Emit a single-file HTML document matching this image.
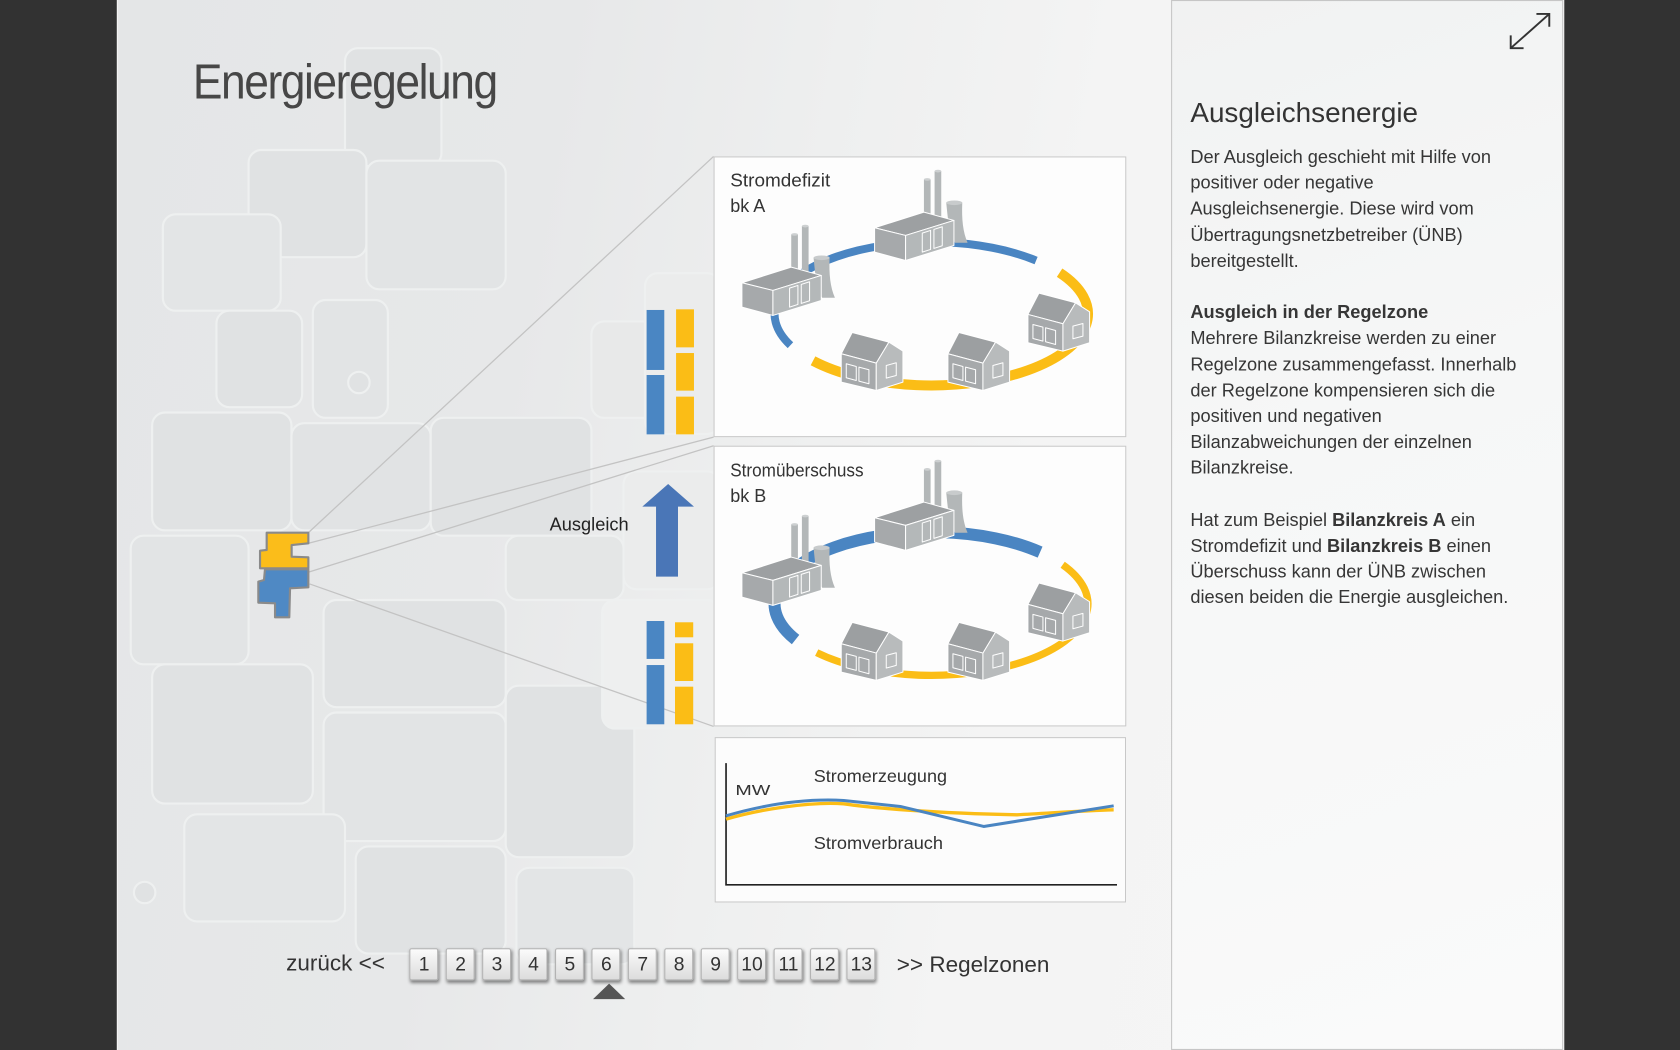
<!DOCTYPE html>
<html><head><meta charset="utf-8">
<style>
html,body{margin:0;padding:0;}
body{width:1680px;height:1050px;overflow:hidden;background:#323232;position:relative;font-family:"Liberation Sans",sans-serif;}
#s{position:absolute;left:0;top:0;width:1568px;height:980px;transform:scale(1.0714286);transform-origin:0 0;}
.abs{position:absolute;}
#main{left:109px;top:0;width:1351px;height:980px;background:linear-gradient(100deg,#e4e6e7 0%,#e7e8e9 28%,#eeefef 45%,#f4f4f4 62%,#f6f6f6 100%);border-left:2px solid #f3f3f3;box-sizing:border-box;overflow:hidden;}
#rp{left:1093px;top:0;width:366px;height:980px;background:linear-gradient(160deg,#f1f2f2 0%,#f6f7f7 40%,#fafafa 100%);border:1px solid #c6c6c6;box-sizing:border-box;}
.txt{color:#363636;font-size:17px;line-height:24.2px;white-space:nowrap;}
.btn{position:absolute;top:885px;width:27px;height:30px;box-sizing:border-box;border:1px solid #b3b3b3;border-radius:2px;background:linear-gradient(#fbfbfb,#dcdcdc);box-shadow:1px 2px 3px rgba(0,0,0,.45);font-size:18px;line-height:28px;text-align:center;color:#333;}
</style></head>
<body>
<div id="s">
<div id="main" class="abs">
<svg class="abs" style="left:-109px;top:0" width="1568" height="980">
 <g fill="#e0e2e3" stroke="#eef0f0" stroke-width="2">
  <rect x="320" y="45" width="90" height="110" rx="12"/>
  <rect x="230" y="140" width="110" height="100" rx="12"/>
  <rect x="150" y="200" width="110" height="90" rx="12" fill="#e3e5e6"/>
  <rect x="200" y="290" width="80" height="90" rx="12"/>
  <rect x="290" y="280" width="70" height="110" rx="12" fill="#e2e4e5"/>
  <rect x="340" y="150" width="130" height="120" rx="12" fill="#e2e4e5"/>
  <rect x="140" y="385" width="130" height="110" rx="12"/>
  <rect x="270" y="395" width="130" height="100" rx="12" fill="#e1e3e4"/>
  <rect x="400" y="390" width="150" height="110" rx="12"/>
  <rect x="120" y="500" width="110" height="120" rx="12" fill="#e2e4e5"/>
  <rect x="300" y="560" width="170" height="100" rx="12"/>
  <rect x="140" y="620" width="150" height="130" rx="12"/>
  <rect x="300" y="665" width="170" height="120" rx="12" fill="#e2e4e5"/>
  <rect x="470" y="640" width="120" height="160" rx="12"/>
  <rect x="170" y="760" width="150" height="100" rx="12" fill="#e3e5e6"/>
  <rect x="330" y="790" width="140" height="100" rx="12"/>
  <rect x="480" y="810" width="110" height="90" rx="12" fill="#e3e5e6"/>
  <rect x="470" y="500" width="110" height="60" rx="12" fill="#e4e6e6"/>
  <rect x="550" y="300" width="60" height="90" rx="12" fill="#e8e9e9"/>
  <rect x="600" y="255" width="70" height="150" rx="12" fill="#ebecec"/>
  <rect x="580" y="440" width="90" height="110" rx="12" fill="#ebecec"/>
  <rect x="560" y="560" width="110" height="120" rx="12" fill="#eeefef"/>
  <circle cx="133" cy="833" r="10"/>
  <circle cx="333" cy="357" r="10"/>
 </g>
</svg>
</div>

<!-- title -->
<div class="abs" style="left:180px;top:53px;font-size:46px;line-height:46px;color:#474747;white-space:nowrap;letter-spacing:-1.5px;transform:scaleX(0.9);transform-origin:0 0;">Energieregelung</div>

<!-- connectors + map -->
<svg class="abs" style="left:0;top:0" width="1568" height="980">
 <g stroke="#c3c3c3" stroke-width="1.2" fill="none">
  <line x1="288" y1="497" x2="666" y2="146"/>
  <line x1="288" y1="507" x2="666" y2="408"/>
  <line x1="288" y1="534" x2="666" y2="416"/>
  <line x1="289" y1="545" x2="666" y2="678"/>
 </g>
 <g stroke="#8a8a8a" stroke-width="2" stroke-linejoin="round">
  <polygon fill="#fbbd1a" points="248.9,497.2 287.8,497.2 287.8,507.1 272.2,508.7 272.2,519.6 287.8,520.2 287.8,530.4 242.7,530.4 242.7,514 248.9,513.3"/>
  <polygon fill="#4f89c4" points="247.3,531.4 287.8,531.4 287.8,548.2 270.7,549.1 270,576.2 256.7,576.2 256.7,563.1 241.1,562.5 241.1,542.9 246.4,541.3"/>
 </g>
 <!-- bars -->
 <g fill="#4a86c3">
  <rect x="603.5" y="289.3" width="16.5" height="56"/>
  <rect x="603.5" y="350" width="16.5" height="55.4"/>
  <rect x="603.5" y="579.6" width="16.5" height="35.4"/>
  <rect x="603.5" y="620.7" width="16.5" height="55.3"/>
 </g>
 <g fill="#fbbd16">
  <rect x="631" y="288.7" width="16.7" height="35.5"/>
  <rect x="631" y="329.5" width="16.7" height="35.1"/>
  <rect x="631" y="370.2" width="16.7" height="35.2"/>
  <rect x="630" y="580.8" width="17" height="14"/>
  <rect x="630" y="600.4" width="17" height="35.2"/>
  <rect x="630" y="640.9" width="17" height="35.1"/>
 </g>
 <polygon fill="#4a76b7" points="623.6,451.7 647.7,472.9 632.8,472.9 632.8,538.2 612.3,538.2 612.3,472.9 599.5,472.9"/>
</svg>
<div class="abs" style="left:513px;top:478px;font-size:17px;line-height:24px;color:#222;">Ausgleich</div>

<!-- panel A -->
<svg class="abs" style="left:666.4px;top:145.6px;overflow:visible" width="385.2" height="262" viewBox="222 18 1238 842">
 <defs>
  <g id="fac" stroke="#fff" stroke-width="3" stroke-linejoin="round">
   <rect x="455" y="252" width="20" height="115" fill="#b3b7b8" stroke="none"/>
   <ellipse cx="465" cy="252" rx="10" ry="4" fill="#cdd0d1" stroke="none"/>
   <rect x="487" y="227" width="20" height="140" fill="#b3b7b8" stroke="none"/>
   <ellipse cx="497" cy="227" rx="10" ry="4" fill="#cdd0d1" stroke="none"/>
   <path d="M522,322 C527,372 530,410 548,442 L586,442 C572,410 568,372 570,322 Z" fill="#b3b7b8" stroke="none"/>
   <ellipse cx="546" cy="322" rx="24" ry="7" fill="#c8cbcc" stroke="none"/>
   <polygon points="307,397 455,350 545,375 400,420" fill="#9da0a2"/>
   <polygon points="307,397 400,420 400,495 307,470" fill="#a6a9ab"/>
   <polygon points="400,420 545,375 545,450 400,495" fill="#b4b8b9"/>
   <polygon points="450,413 475,405 475,462 450,470" fill="none"/>
   <polygon points="485,402 510,394 510,451 485,459" fill="none"/>
  </g>
  <g id="hs" stroke="#fff" stroke-width="3" stroke-linejoin="round">
   <polygon points="638,546 748,575 710,638 605,610" fill="#9c9fa1"/>
   <polygon points="605,610 710,638 710,720 605,695" fill="#a6a9ab"/>
   <polygon points="710,638 748,575 790,602 790,695 710,720" fill="#b8bbbc"/>
   <polygon points="620,640 650,648 650,690 620,682" fill="none"/>
   <polygon points="658,650 688,658 688,700 658,692" fill="none"/>
   <polygon points="740,645 770,637 770,675 740,683" fill="none"/>
  </g>
  <g id="bld">
   <use href="#fac"/>
   <use href="#fac" transform="translate(398,-165)"/>
   <use href="#hs"/>
   <use href="#hs" transform="translate(320,0)"/>
   <use href="#hs" transform="translate(560,-118)"/>
  </g>
 </defs>
 <rect x="223.5" y="19.5" width="1235" height="839" fill="#fdfdfd" stroke="#c8c8c8" stroke-width="3"/>
 <path d="M452.6,584.3 A470,215 0 0 1 1189.5,330.2" fill="none" stroke="#4a85c2" stroke-width="24"/>
 <path d="M1260,366.7 A470,215 0 0 1 520.3,631.1" fill="none" stroke="#fbbd16" stroke-width="30"/>
 <use href="#bld"/>
 <text x="272" y="108" font-family="Liberation Sans, sans-serif" font-size="54" fill="#333" textLength="300" lengthAdjust="spacingAndGlyphs">Stromdefizit</text>
 <text x="272" y="185" font-family="Liberation Sans, sans-serif" font-size="54" fill="#333">bk A</text>
</svg>

<!-- panel B -->
<svg class="abs" style="left:666.4px;top:415.6px;overflow:visible" width="385.2" height="262" viewBox="222 16 1238 842">
 <rect x="223.5" y="17.5" width="1235" height="839" fill="#fdfdfd" stroke="#c8c8c8" stroke-width="3"/>
 <path d="M468,597.5 A470,215 0 0 1 1201.5,335.3" fill="none" stroke="#4a85c2" stroke-width="36"/>
 <path d="M1269.2,372.9 A470,215 0 0 1 531.3,636.6" fill="none" stroke="#fbbd16" stroke-width="22"/>
 <use href="#bld"/>
 <text x="272" y="108" font-family="Liberation Sans, sans-serif" font-size="54" fill="#333" textLength="400" lengthAdjust="spacingAndGlyphs">Stromüberschuss</text>
 <text x="272" y="185" font-family="Liberation Sans, sans-serif" font-size="54" fill="#333">bk B</text>
</svg>

<!-- chart -->
<svg class="abs" style="left:666.7px;top:688.2px;overflow:visible" width="384" height="154.3" viewBox="43 22 1234 496">
 <rect x="44.5" y="23.5" width="1231" height="493" fill="#fcfcfc" stroke="#c8c8c8" stroke-width="3"/>
 <polyline points="77,100 77,465 1250,465" fill="none" stroke="#222" stroke-width="5"/>
 <text x="105" y="195" font-family="Liberation Sans, sans-serif" font-size="44" fill="#333" textLength="105" lengthAdjust="spacingAndGlyphs">MW</text>
 <text x="340" y="157" font-family="Liberation Sans, sans-serif" font-size="54" fill="#333" textLength="400" lengthAdjust="spacingAndGlyphs">Stromerzeugung</text>
 <text x="340" y="358" font-family="Liberation Sans, sans-serif" font-size="54" fill="#333" textLength="388" lengthAdjust="spacingAndGlyphs">Stromverbrauch</text>
 <path d="M77,268 C180,238 330,215 430,222 C520,235 700,250 950,255 C1050,250 1150,242 1240,240" fill="none" stroke="#fbbd16" stroke-width="10"/>
 <path d="M77,258 C180,228 300,205 430,212 L600,230 L850,290 L1240,228" fill="none" stroke="#4a85c2" stroke-width="9" stroke-linejoin="round"/>
</svg>

<!-- pagination -->
<div class="abs" style="left:267px;top:885px;font-size:21px;line-height:30px;color:#333;white-space:nowrap;">zurück &lt;&lt;</div>
<div class="btn" style="left:382.4px">1</div>
<div class="btn" style="left:416.4px">2</div>
<div class="btn" style="left:450.4px">3</div>
<div class="btn" style="left:484.4px">4</div>
<div class="btn" style="left:518.4px">5</div>
<div class="btn" style="left:552.4px">6</div>
<div class="btn" style="left:586.4px">7</div>
<div class="btn" style="left:620.4px">8</div>
<div class="btn" style="left:654.4px">9</div>
<div class="btn" style="left:688.4px">10</div>
<div class="btn" style="left:722.4px">11</div>
<div class="btn" style="left:756.4px">12</div>
<div class="btn" style="left:790.4px">13</div>
<svg class="abs" style="left:553px;top:917px" width="32" height="16"><polygon points="15.5,1 30.5,15.5 0.5,15.5" fill="#555"/></svg>
<div class="abs" style="left:837px;top:886px;font-size:21px;line-height:30px;color:#333;white-space:nowrap;">&gt;&gt; Regelzonen</div>

<!-- right panel -->
<div id="rp" class="abs"></div>
<svg class="abs" style="left:1408px;top:11px" width="40" height="36">
 <g stroke="#333" stroke-width="1.8" fill="none">
  <line x1="2" y1="34" x2="38" y2="2"/>
  <polyline points="26,2 38,2 38,14"/>
  <polyline points="2,22 2,34 14,34"/>
 </g>
</svg>
<div class="abs" style="left:1111px;top:90px;font-size:26px;line-height:30px;color:#333;white-space:nowrap;">Ausgleichsenergie</div>
<div class="abs txt" style="left:1111px;top:135px;">
Der Ausgleich geschieht mit Hilfe von<br>
positiver oder negative<br>
Ausgleichsenergie. Diese wird vom<br>
Übertragungsnetzbetreiber (ÜNB)<br>
bereitgestellt.<br>
&nbsp;<br>
<b>Ausgleich in der Regelzone</b><br>
Mehrere Bilanzkreise werden zu einer<br>
Regelzone zusammengefasst. Innerhalb<br>
der Regelzone kompensieren sich die<br>
positiven und negativen<br>
Bilanzabweichungen der einzelnen<br>
Bilanzkreise.<br>
&nbsp;<br>
Hat zum Beispiel <b>Bilanzkreis A</b> ein<br>
Stromdefizit und <b>Bilanzkreis B</b> einen<br>
Überschuss kann der ÜNB zwischen<br>
diesen beiden die Energie ausgleichen.
</div>
</div>
</body></html>
